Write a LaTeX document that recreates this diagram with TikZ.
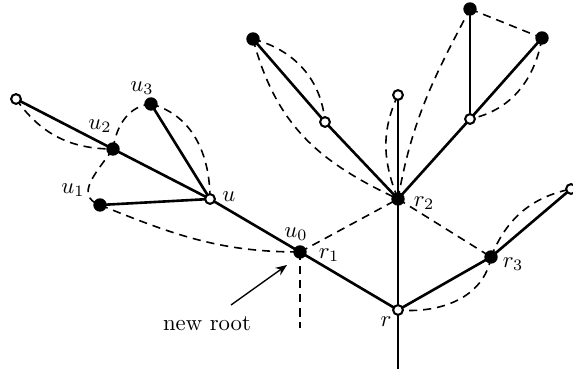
\documentclass[tikz,border=0pt]{standalone}
\usetikzlibrary{backgrounds,arrows.meta}
\begin{document}
\begin{tikzpicture}[x=0.44pt,y=-0.44pt,
  fnode/.style={circle,fill=black,inner sep=0pt,minimum size=5.9pt},
  onode/.style={circle,draw=black,fill=white,line width=0.9pt,inner sep=0pt,minimum size=4.3pt},
  solidedge/.style={line width=1.15pt},
  dashedge/.style={line width=0.7pt,dash pattern=on 3.6pt off 2.6pt},
  lbl/.style={inner sep=0pt}]
\useasboundingbox (0,0) rectangle (573,369);
% vertices
\node[onode] (A) at (16,99) {};
\node[fnode] (u2) at (113,149) {};
\node[fnode] (u3) at (151,104) {};
\node[fnode] (u1) at (100,205) {};
\node[onode] (u) at (210,199) {};
\node[fnode] (r1) at (300,252) {};
\node[onode] (r) at (398,310) {};
\node[fnode] (r2) at (398,199) {};
\node[fnode] (B) at (253,39) {};
\node[onode] (C) at (325,122) {};
\node[onode] (D) at (398,95) {};
\node[onode] (E) at (470,119) {};
\node[fnode] (F) at (470,9) {};
\node[fnode] (G) at (542,38) {};
\node[fnode] (r3) at (491,257) {};
\node[onode] (H) at (571,189) {};
\coordinate (rbot) at (398,369);
\coordinate (r1bot) at (300,328);
\coordinate (arrs) at (231,305);
\coordinate (arre) at (287,265);
% labels
\node[lbl] (lu3) at (142,88) {$u_3$};
\node[lbl] (lu2) at (100,126) {$u_2$};
\node[lbl] (lu1) at (73,190) {$u_1$};
\node[lbl] (lu) at (229,197) {$u$};
\node[lbl] (lu0) at (296,234) {$u_0$};
\node[lbl] (lr1) at (329,255) {$r_1$};
\node[lbl] (lr2) at (424,203) {$r_2$};
\node[lbl] (lr3) at (513,264) {$r_3$};
\node[lbl] (lr) at (386,322) {$r$};
\node[lbl] (nr) at (207,324) {new root};
\begin{scope}[on background layer]
% solid tree edges
\draw[solidedge] (A.center) -- (u2.center) -- (u.center);
\draw[solidedge] (u3.center) -- (u.center);
\draw[solidedge] (u1.center) -- (u.center);
\draw[solidedge] (u.center) -- (r1.center) -- (r.center);
\draw[solidedge] (rbot) -- (r.center) -- (r2.center) -- (D.center);
\draw[solidedge] (B.center) -- (C.center) -- (r2.center);
\draw[solidedge] (r2.center) -- (E.center) -- (G.center);
\draw[solidedge] (E.center) -- (F.center);
\draw[solidedge] (r.center) -- (r3.center) -- (H.center);
% dashed edges
\draw[dashedge] (A.center) to[out=-55,in=180] (u2.center);
\draw[dashedge] (u2.center) to[out=82,in=185] (u3.center);
\draw[dashedge] (u3.center) to[out=-15,in=90] (u.center);
\draw[dashedge] (u2.center) to[out=-125,in=160,looseness=1.25] (u1.center);
\draw[dashedge] (u1.center) to[out=-22,in=180] (r1.center);
\draw[dashedge] (r1.center) -- (r2.center);
\draw[dashedge] (r2.center) -- (r3.center);
\draw[dashedge] (r1.center) -- (r1bot);
\draw[dashedge] (B.center) to[out=-15,in=95] (C.center);
\draw[dashedge] (B.center) to[out=-75,in=155,looseness=1.05] (r2.center);
\draw[dashedge] (D.center) to[out=-115,in=112] (r2.center);
\draw[dashedge] (r2.center) to[out=80,in=-118] (F.center);
\draw[dashedge] (F.center) -- (G.center);
\draw[dashedge] (G.center) to[out=-100,in=12] (E.center);
\draw[dashedge] (r3.center) to[out=68,in=192] (H.center);
\draw[dashedge] (r3.center) to[out=-100,in=-5] (r.center);
\end{scope}
\draw[line width=0.6pt,-{Stealth[length=5pt,width=4pt]}] (arrs) -- (arre);
\end{tikzpicture}
\end{document}
